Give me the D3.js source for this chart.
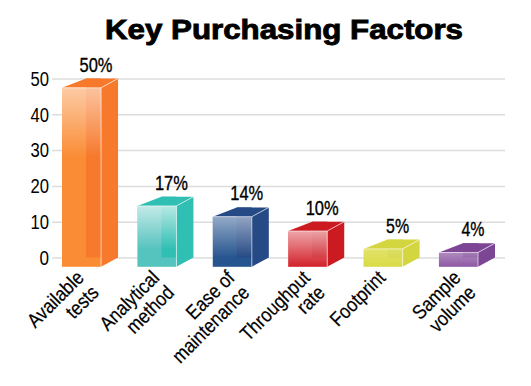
<!DOCTYPE html>
<html>
<head>
<meta charset="utf-8">
<script src="https://cdn.jsdelivr.net/npm/d3@7"></script>
<style>
  body { margin: 0; background: #fff; }
  svg { display: block; }
  text { font-family: "Liberation Sans", Arial, sans-serif; fill: #000; }
</style>
</head>
<body>
<div id="chart"></div>
<script>
const categories = [["Available", "tests"], ["Analytical", "method"], ["Ease of", "maintenance"],
                    ["Throughput", "rate"], ["Footprint"], ["Sample", "volume"]];
const values = [50, 17, 14, 10, 5, 4];
const yTicks = [0, 10, 20, 30, 40, 50];
const frontColors = ["#fa8c35", "#55c3be", "#27558f", "#d3212a", "#dadb45", "#8e58a4"];
const sideColors = ["#f7792b", "#30bfb3", "#264a85", "#cb1a20", "#d3d63f", "#7d4694"];
const shineOpacity = [0.55, 0.65, 0.5, 0.6, 0.2, 0.3];

const width = 531, height = 386;
const svg = d3.select("#chart").append("svg").attr("width", width).attr("height", height);

const x = d3.scaleBand().domain(d3.range(values.length)).range([62, 478]).paddingInner(0.482);
const y = d3.scaleLinear().domain([0, 50]).range([257.5, 78.5]);

// 3d offsets of the boxes
const depthX = 17, depthY = 9.3, backInset = 24;

svg.append("text")
    .attr("x", 284).attr("y", 38.5)
    .attr("text-anchor", "middle")
    .attr("font-size", 28).attr("font-weight", "bold")
    .attr("textLength", 358).attr("lengthAdjust", "spacingAndGlyphs")
    .style("stroke", "#000").style("stroke-width", 0.9)
    .text("Key Purchasing Factors");

// gridlines + tick labels
const yAxis = svg.append("g")
    .attr("transform", "translate(52,0)")
    .call(d3.axisLeft(y).tickValues(yTicks).tickSize(-453).tickPadding(3));
yAxis.select(".domain").remove();
yAxis.selectAll("line").attr("stroke", "#dcdcdc").attr("stroke-width", 1.5);
yAxis.selectAll("text")
    .attr("font-size", 20)
    .attr("textLength", function(d) { return d === 0 ? 9.5 : 18.5; })
    .attr("lengthAdjust", "spacingAndGlyphs")
    .attr("dy", "0.34em")
    .style("font-family", '"Liberation Sans", Arial, sans-serif');

const defs = svg.append("defs");
values.forEach(function(v, i) {
    let h = y(0) - y(v);
    let stop = Math.min(1, (30 + 0.22 * h) / h);
    let grad = defs.append("linearGradient")
        .attr("id", "shine" + i)
        .attr("x1", 0).attr("y1", 0).attr("x2", 0).attr("y2", 1);
    grad.append("stop").attr("offset", 0).attr("stop-color", "#fff").attr("stop-opacity", shineOpacity[i]);
    grad.append("stop").attr("offset", stop).attr("stop-color", "#fff").attr("stop-opacity", 0);
});

const bars = svg.selectAll("g.bar")
    .data(values)
    .enter().append("g")
    .attr("class", "bar");

bars.each(function(v, i) {
    let g = d3.select(this);
    let x0 = x(i), x1 = x0 + x.bandwidth();
    let top = y(v) + depthY, bottom = y(0) + depthY;

    // front face
    g.append("rect")
        .attr("x", x0).attr("y", top)
        .attr("width", x.bandwidth()).attr("height", bottom - top)
        .attr("fill", frontColors[i]);
    // back corner seen through the front
    g.append("rect")
        .attr("x", x0 + backInset).attr("y", y(v))
        .attr("width", x.bandwidth() - backInset).attr("height", y(0) - y(v))
        .attr("fill", sideColors[i]);
    // top face
    g.append("path")
        .attr("d", `M${x0},${top}L${x0 + backInset},${y(v)}L${x1 + depthX},${y(v)}L${x1},${top}Z`)
        .attr("fill", sideColors[i]);
    // right face
    g.append("path")
        .attr("d", `M${x1},${top}L${x1 + depthX},${y(v)}L${x1 + depthX},${y(0)}L${x1},${bottom}Z`)
        .attr("fill", sideColors[i]);
    // glass highlight on the front
    g.append("rect")
        .attr("x", x0).attr("y", top)
        .attr("width", x.bandwidth()).attr("height", bottom - top)
        .attr("fill", `url(#shine${i})`);
    // light edges
    g.append("path")
        .attr("d", `M${x0},${top}H${x1}V${bottom}M${x1},${top}L${x1 + depthX},${y(v)}`)
        .attr("fill", "none")
        .attr("stroke", "#fff").attr("stroke-opacity", 0.6).attr("stroke-width", 1);

    g.append("text")
        .attr("x", x0 + 34).attr("y", y(v) - 7)
        .attr("text-anchor", "middle")
        .attr("font-size", 20)
        .attr("textLength", v >= 10 ? 33 : 23).attr("lengthAdjust", "spacingAndGlyphs")
        .style("stroke", "#000").style("stroke-width", 0.35)
        .text(v + "%");
});

// rotated category labels, right aligned
const labels = svg.selectAll("g.cat")
    .data(categories)
    .enter().append("g")
    .attr("class", "cat")
    .attr("transform", function(d, i) { return `translate(${x(i) + 23},279) rotate(-45)`; });

labels.each(function(lines) {
    let g = d3.select(this);
    lines.forEach(function(line, j) {
        g.append("text")
            .attr("transform", `translate(0,${j * 21}) scale(0.87,1)`)
            .attr("text-anchor", "end")
            .attr("font-size", 20)
            .style("stroke", "#000").style("stroke-width", 0.2)
            .text(line);
    });
});
</script>
</body>
</html>
